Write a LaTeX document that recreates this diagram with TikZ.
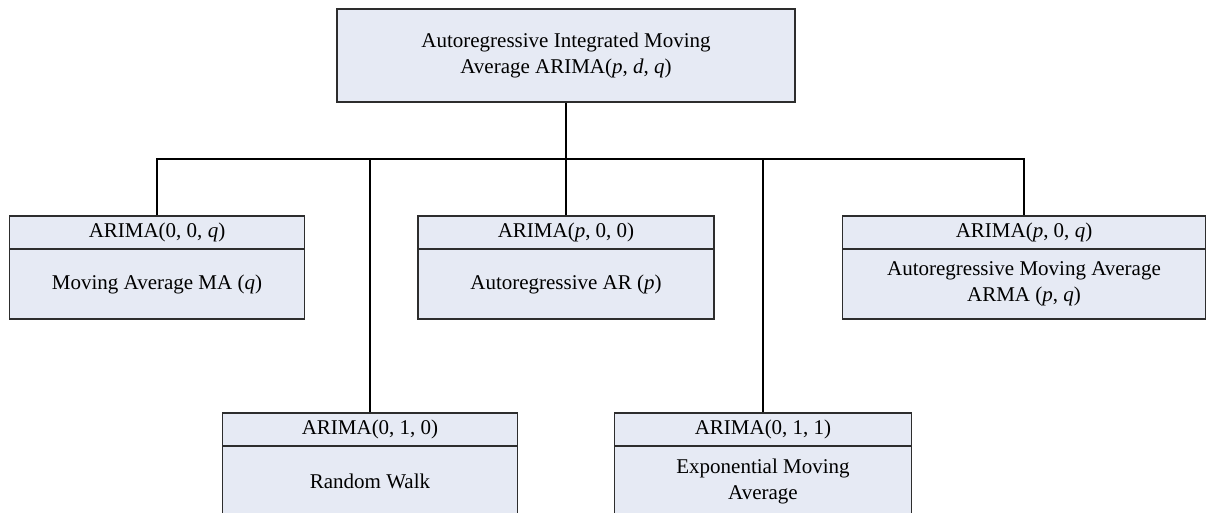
\documentclass[tikz,border=0pt]{standalone}
\usepackage{fontspec}
\setmainfont{Liberation Serif}
\definecolor{boxfill}{RGB}{230,234,244}
\definecolor{boxline}{RGB}{45,45,45}
\begin{document}
\begin{tikzpicture}[x=1pt,y=-1pt,
  every node/.style={font=\fontsize{21}{26}\selectfont},
  box/.style={draw=boxline, fill=boxfill, line width=1.3pt, inner sep=0pt, align=center},
  hdr/.style={box, minimum height=33pt},
  bdy/.style={box, minimum height=70pt},
  conn/.style={draw=black, line width=2.2pt}]
\clip (0,0) rectangle (1208,512);
\fill[white] (0,0) rectangle (1208,512);

\node[box, minimum width=458pt, minimum height=93pt] (top) at (566,55.5)
  {Autoregressive Integrated Moving\\Average ARIMA(\textit{p}, \textit{d}, \textit{q})};

% row 1
\node[hdr, minimum width=295pt] (h1) at (157,232.5) {ARIMA(0, 0, \textit{q})};
\node[bdy, minimum width=295pt] (b1) at (157,284) {Moving Average MA (\textit{q})};

\node[hdr, minimum width=296pt] (h3) at (566,232.5) {ARIMA(\textit{p}, 0, 0)};
\node[bdy, minimum width=296pt] (b3) at (566,284) {Autoregressive AR (\textit{p})};

\node[hdr, minimum width=363pt] (h5) at (1024,232.5) {ARIMA(\textit{p}, 0, \textit{q})};
\node[bdy, minimum width=363pt] (b5) at (1024,284) {Autoregressive Moving Average\\ARMA (\textit{p}, \textit{q})};

% row 2
\node[hdr, minimum width=295pt] (h2) at (370,429.5) {ARIMA(0, 1, 0)};
\node[bdy, minimum width=295pt] (b2) at (370,481) {Random Walk};

\node[hdr, minimum width=297pt] (h4) at (763,429.5) {ARIMA(0, 1, 1)};
\node[bdy, minimum width=297pt] (b4) at (763,481) {Exponential Moving\\Average};

\coordinate (bar) at (566,159);

\draw[conn] (top.south) -- (top.south |- bar);
\draw[conn] (h1.north) -- (h1.north |- bar) -- (h5.north |- bar) -- (h5.north);
\draw[conn] (h2.north) -- (h2.north |- bar);
\draw[conn] (h3.north) -- (h3.north |- bar);
\draw[conn] (h4.north) -- (h4.north |- bar);
\end{tikzpicture}
\end{document}
